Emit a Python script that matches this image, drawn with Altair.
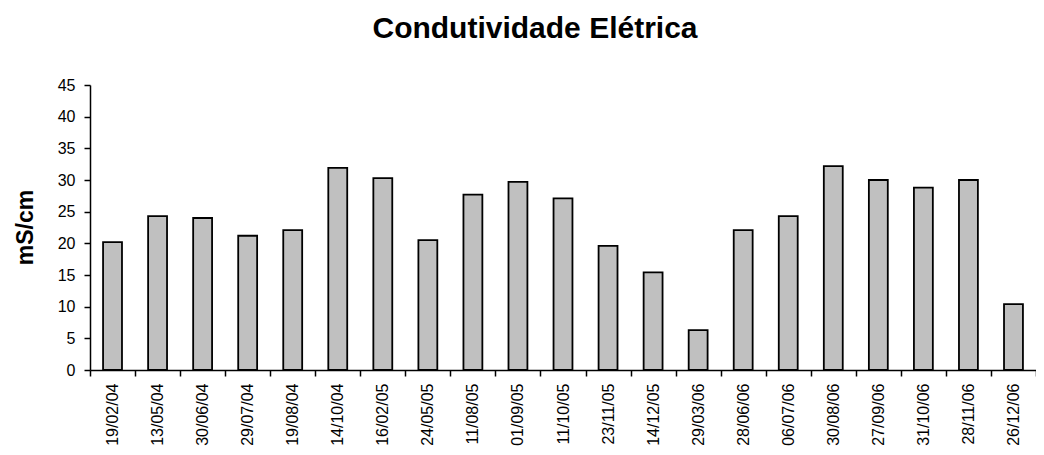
import altair as alt
import pandas as pd

dates = ["19/02/04", "13/05/04", "30/06/04", "29/07/04", "19/08/04", "14/10/04",
         "16/02/05", "24/05/05", "11/08/05", "01/09/05", "11/10/05", "23/11/05",
         "14/12/05", "29/03/06", "28/06/06", "06/07/06", "30/08/06", "27/09/06",
         "31/10/06", "28/11/06", "26/12/06"]
values = [20.2, 24.3, 24.0, 21.2, 22.1, 31.9, 30.3, 20.5, 27.7, 29.7, 27.1,
          19.6, 15.4, 6.3, 22.1, 24.3, 32.2, 30.0, 28.8, 30.0, 10.4]
y_ticks = [0, 5, 10, 15, 20, 25, 30, 35, 40, 45]

df = pd.DataFrame({"data": dates, "valor": values})

FONT = "Liberation Sans"

chart = alt.Chart(df).mark_bar(
    fill="#C0C0C0", stroke="black", strokeWidth=1.8,
    width=alt.RelativeBandSize(0.42)
).encode(
    x=alt.X("data:N", sort=dates,
            scale=alt.Scale(paddingInner=0, paddingOuter=0),
            axis=alt.Axis(title=None, labelAngle=-90, labelFontSize=16,
                          labelFont=FONT, labelColor="black", labelPadding=7,
                          tickBand="extent", tickSize=6, tickColor="black",
                          tickWidth=1.5, domainColor="black", domainWidth=1.5,
                          labelOverlap=False, grid=False)),
    y=alt.Y("valor:Q", scale=alt.Scale(domain=[0, 45], nice=False),
            axis=alt.Axis(title="mS/cm", values=y_ticks, labelFontSize=16,
                          labelFont=FONT, labelColor="black", labelPadding=9,
                          tickSize=6, tickColor="black", tickWidth=1.5,
                          domainColor="black", domainWidth=1.5, grid=False,
                          titleFont=FONT, titleFontSize=23, titleFontWeight="bold",
                          titleColor="black", titleAngle=-90, titleX=-53,
                          titleY=142, titleAlign="center", titleBaseline="bottom"))
).properties(
    width=946,
    height=285,
    title=alt.TitleParams("Condutividade Elétrica", font=FONT, fontSize=30,
                          fontWeight="bold", color="black", anchor="middle",
                          dx=-28, offset=33),
    autosize=alt.AutoSizeParams(type="none"),
    padding={"left": 82, "top": 77, "right": 0, "bottom": 77}
).configure(background="white").configure_view(strokeWidth=0)

chart.save("out.html", embed_options={"renderer": "svg", "actions": False})
